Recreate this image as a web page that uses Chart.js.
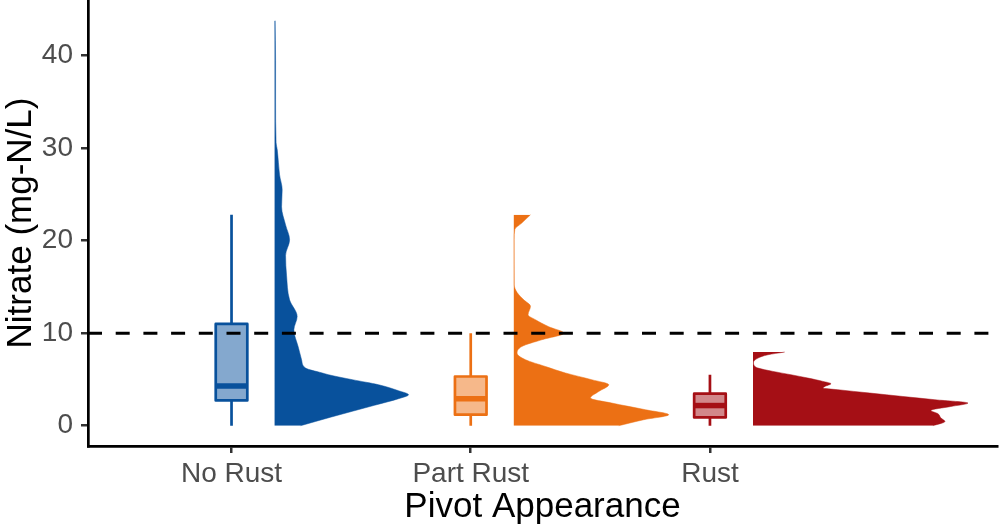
<!DOCTYPE html>
<html><head><meta charset="utf-8">
<script src="https://cdn.jsdelivr.net/npm/chart.js@4.4.1/dist/chart.umd.min.js"></script>
<style>html,body{margin:0;padding:0;background:#fff;}</style>
</head><body>
<canvas id="c" width="1000" height="529"></canvas>
<script>
// ---- data ----
const categories = ['No Rust', 'Part Rust', 'Rust'];
const yTicks = [0, 10, 20, 30, 40];
const threshold = 10;

// box plot statistics (mg-N/L)
const whiskerLow  = [0, 0, 0];
const q1          = [2.73, 1.19, 0.9];
const median      = [4.3, 2.92, 2.18];
const q3          = [11.0, 5.32, 3.46];
const whiskerHigh = [22.8, 10.0, 5.5];

// half-violin density profiles (value, relative density), top to bottom
const noRustY = [43.77, 39.5, 35.2, 30.6, 29.8, 27.1, 25.5, 23.65, 21.7, 20.1, 18.4, 16.2, 13.6, 11.8, 10.37, 8.53, 7.13, 6.23, 5.72, 5.51, 4.97, 4.43, 3.78, 3.35, 2.92, 2.21, 0.92, 0];
const noRustDensity = [0.6, 1, 1, 1.5, 2.7, 5, 7.6, 7, 11, 15, 11, 12, 15, 22.6, 19.3, 23.6, 27, 31, 47, 54, 78, 104, 124, 134, 124, 100, 56, 26];

const partRustY = [22.79, 21.9, 21.2, 20.1, 15.2, 14.4, 13.6, 12.9, 12.0, 11.45, 10.7, 10.0, 9.29, 8.56, 7.85, 7.13, 6.4, 5.7, 4.97, 4.43, 3.7, 2.99, 2.45, 1.73, 1.19, 0.65, 0];
const partRustDensity = [16.7, 8, 1, 0.4, 0.5, 3.3, 10, 16.7, 14.3, 21.7, 35, 50, 28, 8, 3.3, 11.7, 31.7, 51.7, 78, 95, 85, 76.7, 98, 131.7, 155, 130, 105];

const rustY = [7.96, 7.67, 7.31, 6.84, 6.4, 6.23, 5.87, 5.51, 5.15, 4.79, 4.54, 4.25, 4.07, 3.89, 3.53, 3.16, 2.81, 2.45, 2.08, 1.65, 1.3, 0.83, 0.46, 0];
const rustDensity = [31.7, 15, 5, 0.5, 2, 5, 20, 38, 55, 70, 78, 72, 70, 85, 117, 150, 182, 215, 198, 178, 185, 188, 192, 180];

const violinY = [noRustY, partRustY, rustY];
const violinDensity = [noRustDensity, partRustDensity, rustDensity];

// ---- styling ----
const colors = ['#08519C', '#EC7014', '#A50F15'];
const lightColors = ['#84A8CE', '#F6B88A', '#D2878A'];
const FONT = '"Liberation Sans", Arial, sans-serif';
const catPos = [1, 2, 3];
const violinOffset = 0.18;
const boxHalf = 0.066;
const densityScale = 1 / 239.3;
const xMin = 0.4, xMax = 4.2, yMin = -2.19, yMax = 46.0;

const datasets = [];

// threshold line
datasets.push({
  data: [{x: xMin, y: threshold}, {x: xMax, y: threshold}],
  showLine: true, borderColor: '#000', borderWidth: 3, borderDash: [14, 13.7],
  pointRadius: 0, fill: false, order: 0
});

categories.forEach((cat, i) => {
  const c = catPos[i];
  // half violin: smooth profile filled back to its baseline
  const x0 = c + violinOffset;
  const ys = violinY[i], ds = violinDensity[i];
  datasets.push({
    indexAxis: 'y',
    data: ys.map((y, k) => ({x: x0 + ds[k] * densityScale, y: y})),
    showLine: true, fill: {value: x0}, cubicInterpolationMode: 'monotone',
    backgroundColor: colors[i], borderColor: colors[i], borderWidth: 0.5,
    pointRadius: 0, order: 3
  });
  // whiskers
  datasets.push({
    data: [{x: c, y: q3[i]}, {x: c, y: whiskerHigh[i]}, {x: c, y: null}, {x: c, y: whiskerLow[i]}, {x: c, y: q1[i]}],
    showLine: true, spanGaps: false, borderColor: colors[i], borderWidth: 2.7,
    pointRadius: 0, fill: false, order: 2
  });
  // box
  datasets.push({
    data: [{x: c - boxHalf, y: q1[i]}, {x: c + boxHalf, y: q1[i]}, {x: c + boxHalf, y: q3[i]}, {x: c - boxHalf, y: q3[i]}, {x: c - boxHalf, y: q1[i]}],
    showLine: true, fill: 'shape', tension: 0, borderJoinStyle: 'round',
    backgroundColor: lightColors[i], borderColor: colors[i], borderWidth: 2.7,
    pointRadius: 0, order: 2
  });
  // median
  datasets.push({
    data: [{x: c - boxHalf, y: median[i]}, {x: c + boxHalf, y: median[i]}],
    showLine: true, borderColor: colors[i], borderWidth: 5.5,
    pointRadius: 0, fill: false, order: 1
  });
});

const axisCommon = {
  grid: {display: true, drawOnChartArea: false, drawTicks: true, tickLength: 7, color: '#333333', lineWidth: 2.5},
  border: {display: true, color: '#000', width: 2.7}
};

new Chart(document.getElementById('c'), {
  type: 'scatter',
  data: {datasets},
  options: {
    responsive: false, animation: false, devicePixelRatio: 1,
    layout: {padding: {left: 0, right: 3, top: 0, bottom: 0}},
    plugins: {legend: {display: false}, tooltip: {enabled: false}},
    scales: {
      x: {
        type: 'linear', min: xMin, max: xMax,
        afterBuildTicks: s => { s.ticks = catPos.map(v => ({value: v})); },
        afterFit: s => { s.height = 83; s.paddingLeft = 0; s.paddingRight = 0; },
        ticks: {
          callback: (v, idx) => categories[idx],
          font: {family: FONT, size: 28}, color: '#4D4D4D', padding: 4,
          maxRotation: 0, autoSkip: false
        },
        title: {display: true, text: 'Pivot Appearance', font: {family: FONT, size: 35}, color: '#000', padding: {top: 0, bottom: 1}},
        ...axisCommon
      },
      y: {
        min: yMin, max: yMax,
        afterBuildTicks: s => { s.ticks = yTicks.map(v => ({value: v})); },
        afterFit: s => { s.width = 88; s.paddingTop = 0; s.paddingBottom = 0; },
        ticks: {font: {family: FONT, size: 28}, color: '#4D4D4D', padding: 8},
        title: {display: true, text: 'Nitrate (mg-N/L)', font: {family: FONT, size: 35}, color: '#000', padding: {top: 0, bottom: 0}},
        ...axisCommon
      }
    }
  }
});
</script>
</body></html>
